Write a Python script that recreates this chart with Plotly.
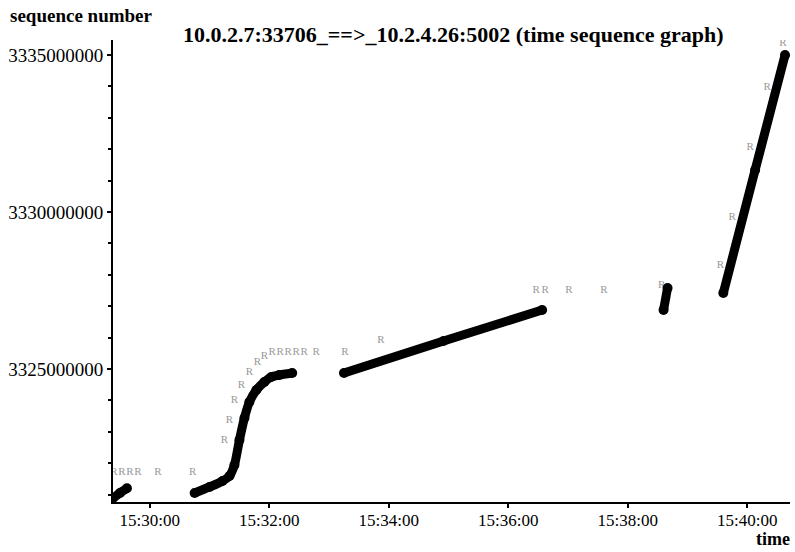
import plotly.graph_objects as go

DAY = "2000-01-01 "

# black data segments (None = gap between segments)
data_time = ["15:29:23", "15:29:30", "15:29:37", None,
             "15:30:45", "15:31:00", "15:31:13", "15:31:20", "15:31:25", "15:31:30",
             "15:31:35", "15:31:40", "15:31:47", "15:31:55", "15:32:02", "15:32:10", "15:32:23", None,
             "15:33:15", "15:34:55", "15:36:34", None,
             "15:38:36", "15:38:40", None,
             "15:39:36", "15:40:08", "15:40:38"]
data_seq = [3320890000, 3321050000, 3321200000, None,
            3321051000, 3321242000, 3321433000, 3321592000, 3321943000, 3322739000,
            3323440000, 3323949000, 3324331000, 3324586000, 3324745000, 3324809000, 3324873000, None,
            3324873000, 3325892000, 3326879000, None,
            3326879000, 3327580000, None,
            3327420000, 3331338000, 3335000000]

# grey "R" marks (retransmissions)
r_time = ["15:29:24", "15:29:32", "15:29:40", "15:29:48", "15:30:08", "15:30:43",
          "15:31:15", "15:31:20", "15:31:25", "15:31:32", "15:31:40", "15:31:48", "15:31:55",
          "15:32:03", "15:32:11", "15:32:19", "15:32:27", "15:32:35", "15:32:47", "15:33:16", "15:33:52",
          "15:36:28", "15:36:37", "15:37:01", "15:37:36", "15:38:34",
          "15:39:33", "15:39:45", "15:40:03", "15:40:20", "15:40:36"]
r_seq = [3321720000] * 6 + \
        [3322739000, 3323376000, 3324013000, 3324490000, 3324904000, 3325223000, 3325414000] + \
        [3325541000] * 7 + [3325924000] + \
        [3327516000] * 4 + [3327675000] + \
        [3328312000, 3329841000, 3332070000, 3333981000, 3335382000]

y_ticks = [3325000000, 3330000000, 3335000000]
y_ticktext = ["3325000000", "3330000000", "3335000000"]
x_range = ["15:29:23", "15:40:43"]
y_range = [3320764000, 3335478000]

def ts(lst):
    return [None if t is None else DAY + t for t in lst]

SERIF = "Liberation Serif"

fig = go.Figure()
fig.add_trace(go.Scatter(
    x=ts(r_time), y=r_seq, mode="text", text=["R"] * len(r_time),
    textfont=dict(family=SERIF, size=11, color="#999999"), textposition="middle center",
    showlegend=False, hoverinfo="skip"))
fig.add_trace(go.Scatter(
    x=ts(data_time), y=data_seq, mode="lines+markers",
    line=dict(color="black", width=9, shape="spline", smoothing=0.6),
    marker=dict(color="black", size=10),
    connectgaps=False, showlegend=False))

fig.update_layout(
    width=795, height=552,
    margin=dict(l=113, r=5, t=40, b=50),
    paper_bgcolor="white", plot_bgcolor="white",
    font=dict(family=SERIF, color="black", size=18),
    title=dict(text="<b>10.0.2.7:33706_==>_10.2.4.26:5002 (time sequence graph)</b>",
               x=183 / 795, xanchor="left", xref="container",
               y=1 - 34 / 552, yanchor="middle", yref="container",
               font=dict(family=SERIF, size=22, color="black")),
    annotations=[
        dict(text="<b>sequence number</b>", xref="paper", yref="paper",
             x=(8 - 113) / 677, y=(502 - 16) / 462, xanchor="left", yanchor="middle",
             showarrow=False, font=dict(family=SERIF, size=19, color="black")),
        dict(text="<b>time</b>", xref="paper", yref="paper",
             x=(792 - 113) / 677, y=(502 - 551) / 462, xanchor="right", yanchor="bottom",
             showarrow=False, font=dict(family=SERIF, size=18, color="black")),
    ],
)
fig.update_xaxes(
    type="date", range=ts(x_range), tick0=DAY + "15:30:00", dtick=120000,
    tickformat="%H:%M:%S", showgrid=False, zeroline=False,
    showline=True, linecolor="black", linewidth=2,
    ticks="outside", ticklen=4, tickwidth=2, tickcolor="black",
    ticklabelstandoff=-2,
    tickfont=dict(family=SERIF, size=17, color="black"))
fig.update_yaxes(
    range=y_range, tickvals=y_ticks, ticktext=y_ticktext,
    showgrid=False, zeroline=False,
    showline=True, linecolor="black", linewidth=2,
    ticks="outside", ticklen=4, tickwidth=2, tickcolor="black",
    minor=dict(dtick=1000000, tick0=3320000000, ticks="outside", ticklen=3, tickwidth=2, tickcolor="black"),
    tickfont=dict(family=SERIF, size=19, color="black"))

fig.write_html("out.html")
